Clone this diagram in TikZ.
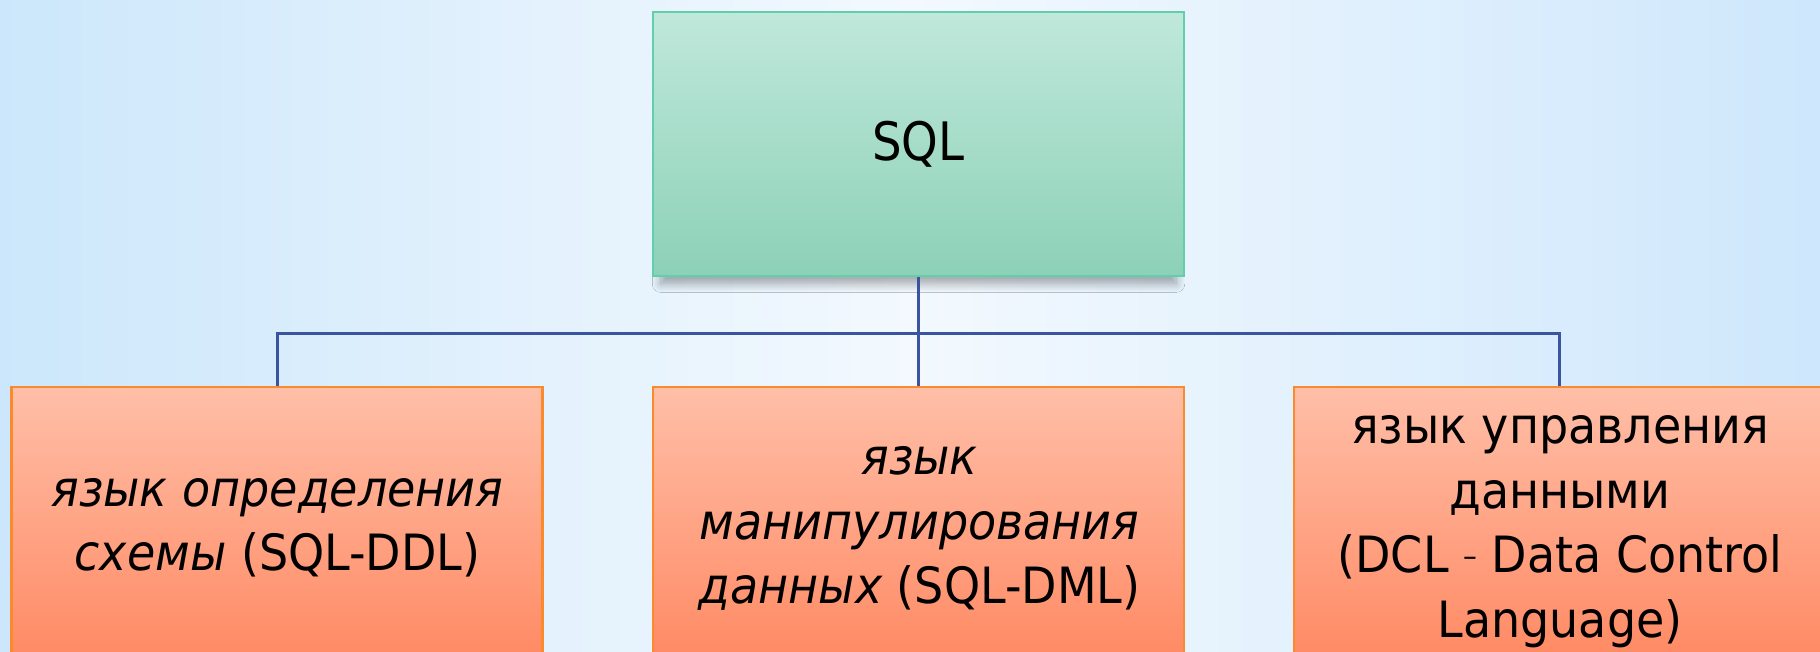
\documentclass[tikz,border=0pt]{standalone}
\usepackage{fontspec}
\setmainfont{DejaVu Sans}[FakeStretch=0.88]
\newfontfamily\boxfont{DejaVu Sans}[FakeStretch=0.92]
\usetikzlibrary{shadows.blur}
\definecolor{bgleft}{RGB}{204,231,251}
\definecolor{bgmid}{RGB}{243,249,254}
\definecolor{bgright}{RGB}{206,231,252}
\definecolor{sqltop}{RGB}{192,232,219}
\definecolor{sqlbot}{RGB}{140,209,183}
\definecolor{sqlline}{RGB}{98,206,170}
\definecolor{subtop}{RGB}{255,191,168}
\definecolor{subbot}{RGB}{255,139,101}
\definecolor{subline}{RGB}{250,138,44}
\definecolor{linkcol}{RGB}{58,84,160}
% struts of equal height and depth, so that a label is centred on the
% midpoint between its first and last baselines
\newcommand{\topstrut}{\rule{0pt}{40pt}}
\newcommand{\botstrut}{\rule[-40pt]{0pt}{80pt}}
\begin{document}
\begin{tikzpicture}[x=1pt,y=-1pt,
  topbox/.style={draw=sqlline, line width=2.5pt, top color=sqltop, bottom color=sqlbot,
    minimum width=531pt, minimum height=264pt, inner sep=0pt,
    blur shadow={shadow xshift=0pt, shadow yshift=-12pt, shadow opacity=35,
      shadow blur radius=9pt, shadow blur steps=12, shadow scale=0.97},
    font=\fontsize{53}{60}\selectfont},
  subbox/.style={draw=subline, line width=2.5pt, top color=subtop, bottom color=subbot,
    minimum width=531pt, minimum height=266pt, inner sep=0pt},
  boxtext/.style={inner sep=0pt, align=center, font=\boxfont\fontsize{50}{64.5}\selectfont},
  link/.style={draw=linkcol, line width=3pt}]
\useasboundingbox (0,0) rectangle (1820,651);
% backdrop
\shade[left color=bgleft, right color=bgright, middle color=bgmid] (0,0) rectangle (1820,651);

% boxes
\node[topbox] (sql) at (918.5,144) {SQL};
\node[subbox] (ddl) at (277,520) {};
\node[subbox] (dml) at (918.5,520) {};
\node[subbox] (dcl) at (1559.5,520) {};

% box labels
\node[boxtext] (ddl-t) at (277.5,538.5)
  {\topstrut\itshape язык определения\\ \itshape схемы\upshape{} (SQL-DDL)\botstrut};
\node[boxtext] (dml-t) at (919.5,539)
  {\topstrut\itshape язык\\ \itshape манипулирования\\ \itshape данных\upshape{} (SQL-DML)\botstrut};
\node[boxtext] (dcl-t) at (1560,540.5)
  {\topstrut язык управления\\ данными\\ (DCL {\fontsize{30}{36}\selectfont\raisebox{0.2em}{–}} Data Control\\ Language)\botstrut};

% tree connectors
\coordinate (bus) at (918.5,333);
\draw[link] (sql.south) -- (dml.north);
\draw[link] (ddl.north) |- (bus) -| (dcl.north);
\end{tikzpicture}
\end{document}
